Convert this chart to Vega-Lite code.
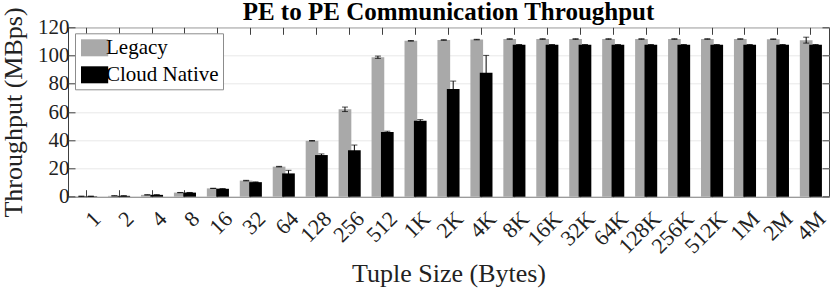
{
  "$schema": "https://vega.github.io/schema/vega-lite/v6.json",
  "width": 761,
  "height": 169.4,
  "autosize": {"type": "none"},
  "padding": {"left": 68, "top": 27.3, "right": 1, "bottom": 91.3},
  "background": "white",
  "title": {
    "text": "PE to PE Communication Throughput",
    "font": "Liberation Serif",
    "fontSize": 25,
    "fontWeight": "bold",
    "color": "#000000",
    "anchor": "middle",
    "offset": 0,
    "dy": 18
  },
  "data": {
    "values": [
      {"size": "1", "series": "Legacy", "value": 0.3, "lo": 0.2, "hi": 0.4},
      {"size": "1", "series": "Cloud Native", "value": 0.3, "lo": 0.2, "hi": 0.4},
      {"size": "2", "series": "Legacy", "value": 0.6, "lo": 0.5, "hi": 0.7},
      {"size": "2", "series": "Cloud Native", "value": 0.6, "lo": 0.5, "hi": 0.7},
      {"size": "4", "series": "Legacy", "value": 1.3, "lo": 1.2, "hi": 1.4},
      {"size": "4", "series": "Cloud Native", "value": 1.3, "lo": 1.2, "hi": 1.4},
      {"size": "8", "series": "Legacy", "value": 2.9, "lo": 2.8, "hi": 3.0},
      {"size": "8", "series": "Cloud Native", "value": 2.9, "lo": 2.8, "hi": 3.0},
      {"size": "16", "series": "Legacy", "value": 5.9, "lo": 5.8, "hi": 6.0},
      {"size": "16", "series": "Cloud Native", "value": 5.6, "lo": 5.5, "hi": 5.7},
      {"size": "32", "series": "Legacy", "value": 11.4, "lo": 11.2, "hi": 11.6},
      {"size": "32", "series": "Cloud Native", "value": 10.3, "lo": 10.1, "hi": 10.5},
      {"size": "64", "series": "Legacy", "value": 21.3, "lo": 21.1, "hi": 21.5},
      {"size": "64", "series": "Cloud Native", "value": 16.5, "lo": 14.3, "hi": 18.7},
      {"size": "128", "series": "Legacy", "value": 39.6, "lo": 39.4, "hi": 39.8},
      {"size": "128", "series": "Cloud Native", "value": 29.5, "lo": 28.7, "hi": 30.3},
      {"size": "256", "series": "Legacy", "value": 61.9, "lo": 60.3, "hi": 63.5},
      {"size": "256", "series": "Cloud Native", "value": 32.9, "lo": 29.2, "hi": 36.6},
      {"size": "512", "series": "Legacy", "value": 98.8, "lo": 98.0, "hi": 99.6},
      {"size": "512", "series": "Cloud Native", "value": 45.9, "lo": 45.4, "hi": 46.4},
      {"size": "1K", "series": "Legacy", "value": 110.4, "lo": 110.2, "hi": 110.6},
      {"size": "1K", "series": "Cloud Native", "value": 53.8, "lo": 53.0, "hi": 54.6},
      {"size": "2K", "series": "Legacy", "value": 111.0, "lo": 110.8, "hi": 111.2},
      {"size": "2K", "series": "Cloud Native", "value": 76.3, "lo": 70.7, "hi": 81.9},
      {"size": "4K", "series": "Legacy", "value": 111.3, "lo": 111.1, "hi": 111.5},
      {"size": "4K", "series": "Cloud Native", "value": 87.8, "lo": 75.5, "hi": 100.1},
      {"size": "8K", "series": "Legacy", "value": 111.7, "lo": 111.5, "hi": 111.9},
      {"size": "8K", "series": "Cloud Native", "value": 107.6, "lo": 107.4, "hi": 107.8},
      {"size": "16K", "series": "Legacy", "value": 111.7, "lo": 111.5, "hi": 111.9},
      {"size": "16K", "series": "Cloud Native", "value": 107.6, "lo": 107.4, "hi": 107.8},
      {"size": "32K", "series": "Legacy", "value": 111.7, "lo": 111.5, "hi": 111.9},
      {"size": "32K", "series": "Cloud Native", "value": 107.6, "lo": 107.4, "hi": 107.8},
      {"size": "64K", "series": "Legacy", "value": 111.7, "lo": 111.5, "hi": 111.9},
      {"size": "64K", "series": "Cloud Native", "value": 107.6, "lo": 107.4, "hi": 107.8},
      {"size": "128K", "series": "Legacy", "value": 111.7, "lo": 111.5, "hi": 111.9},
      {"size": "128K", "series": "Cloud Native", "value": 107.6, "lo": 107.4, "hi": 107.8},
      {"size": "256K", "series": "Legacy", "value": 111.7, "lo": 111.5, "hi": 111.9},
      {"size": "256K", "series": "Cloud Native", "value": 107.6, "lo": 107.4, "hi": 107.8},
      {"size": "512K", "series": "Legacy", "value": 111.7, "lo": 111.5, "hi": 111.9},
      {"size": "512K", "series": "Cloud Native", "value": 107.6, "lo": 107.4, "hi": 107.8},
      {"size": "1M", "series": "Legacy", "value": 111.7, "lo": 111.5, "hi": 111.9},
      {"size": "1M", "series": "Cloud Native", "value": 107.6, "lo": 107.4, "hi": 107.8},
      {"size": "2M", "series": "Legacy", "value": 111.6, "lo": 111.4, "hi": 111.8},
      {"size": "2M", "series": "Cloud Native", "value": 107.6, "lo": 107.4, "hi": 107.8},
      {"size": "4M", "series": "Legacy", "value": 110.9, "lo": 108.8, "hi": 113.0},
      {"size": "4M", "series": "Cloud Native", "value": 107.6, "lo": 107.4, "hi": 107.8}
    ]
  },
  "encoding": {
    "x": {
      "field": "size",
      "type": "nominal",
      "sort": ["1","2","4","8","16","32","64","128","256","512","1K","2K","4K","8K","16K","32K","64K","128K","256K","512K","1M","2M","4M"],
      "scale": {"paddingInner": 0.43, "paddingOuter": 0.265}
    },
    "xOffset": {
      "field": "series",
      "type": "nominal",
      "sort": ["Legacy", "Cloud Native"],
      "scale": {"paddingInner": 0, "paddingOuter": 0}
    }
  },
  "layer": [
    {
      "mark": {"type": "bar", "width": 12.7},
      "encoding": {
        "x": {
          "field": "size",
          "type": "nominal",
          "sort": ["1","2","4","8","16","32","64","128","256","512","1K","2K","4K","8K","16K","32K","64K","128K","256K","512K","1M","2M","4M"],
          "axis": {
            "orient": "bottom",
            "title": "Tuple Size (Bytes)",
            "titleFont": "Liberation Serif",
            "titleFontSize": 26,
            "titleFontWeight": "normal",
            "titleColor": "#222222",
            "titlePadding": 3,
            "labelFont": "Liberation Serif",
            "labelFontSize": 22,
            "labelColor": "#222222",
            "labelAngle": -45,
            "labelAlign": "right",
            "labelBaseline": "middle",
            "labelOffset": 11,
            "labelPadding": 25,
            "tickSize": -7,
            "tickColor": "#404040",
            "domain": false,
            "grid": false
          }
        },
        "y": {
          "field": "value",
          "type": "quantitative",
          "scale": {"domain": [0, 120], "nice": false},
          "axis": {
            "orient": "left",
            "values": [0, 20, 40, 60, 80, 100, 120],
            "title": "Throughput (MBps)",
            "titleFont": "Liberation Serif",
            "titleFontSize": 26,
            "titleFontWeight": "normal",
            "titleColor": "#222222",
            "titlePadding": 11,
            "labelFont": "Liberation Serif",
            "labelFontSize": 21,
            "labelColor": "#222222",
            "labelPadding": 6,
            "tickSize": -7,
            "tickColor": "#404040",
            "domain": false,
            "grid": true,
            "gridColor": "#e8e8e8"
          }
        },
        "color": {
          "field": "series",
          "type": "nominal",
          "sort": ["Legacy", "Cloud Native"],
          "scale": {"domain": ["Legacy", "Cloud Native"], "range": ["#a9a9a9", "#000000"]},
          "legend": {
            "title": null,
            "orient": "none",
            "legendX": 7,
            "legendY": 6,
            "direction": "vertical",
            "fillColor": "white",
            "strokeColor": "#8c8c8c",
            "padding": 4,
            "rowPadding": 5,
            "symbolType": "M-1,-1H2.2V1H-1Z",
            "symbolSize": 289,
            "symbolStrokeWidth": 0,
            "labelOffset": 6,
            "labelFont": "Liberation Serif",
            "labelFontSize": 21,
            "labelColor": "#000000"
          }
        }
      }
    },
    {
      "mark": {"type": "rule", "color": "#000000", "strokeWidth": 1},
      "encoding": {
        "x": {
          "field": "size",
          "type": "nominal",
          "sort": ["1","2","4","8","16","32","64","128","256","512","1K","2K","4K","8K","16K","32K","64K","128K","256K","512K","1M","2M","4M"],
          "axis": {"orient": "top", "title": null, "labels": false, "tickSize": -7, "tickColor": "#404040", "domain": false, "grid": false}
        },
        "y": {
          "field": "lo",
          "type": "quantitative",
          "axis": {"orient": "right", "title": null, "labels": false, "values": [0, 20, 40, 60, 80, 100, 120], "tickSize": -7, "tickColor": "#404040", "domain": false, "grid": false}
        },
        "y2": {"field": "hi"}
      }
    },
    {
      "mark": {"type": "tick", "color": "#000000", "thickness": 1, "size": 6, "orient": "horizontal"},
      "encoding": {
        "x": {"field": "size", "type": "nominal", "sort": ["1","2","4","8","16","32","64","128","256","512","1K","2K","4K","8K","16K","32K","64K","128K","256K","512K","1M","2M","4M"], "axis": null},
        "y": {"field": "hi", "type": "quantitative", "axis": null}
      }
    },
    {
      "mark": {"type": "tick", "color": "#000000", "thickness": 1, "size": 6, "orient": "horizontal"},
      "encoding": {
        "x": {"field": "size", "type": "nominal", "sort": ["1","2","4","8","16","32","64","128","256","512","1K","2K","4K","8K","16K","32K","64K","128K","256K","512K","1M","2M","4M"], "axis": null},
        "y": {"field": "lo", "type": "quantitative", "axis": null}
      }
    }
  ],
  "resolve": {"axis": {"x": "independent", "y": "independent"}},
  "config": {
    "view": {"stroke": "#404040", "strokeWidth": 1},
    "font": "Liberation Serif"
  }
}
